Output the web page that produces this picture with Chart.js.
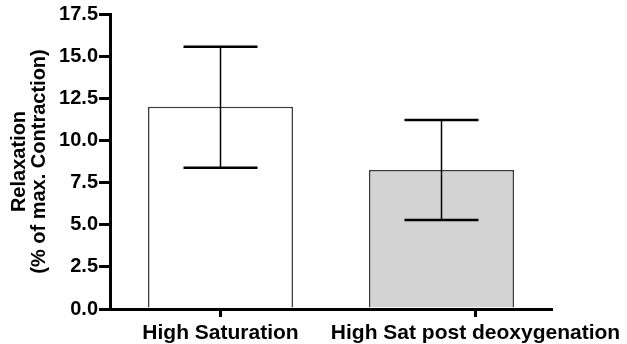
<!DOCTYPE html>
<html>
<head>
<meta charset="utf-8">
<script src="https://cdn.jsdelivr.net/npm/chart.js@4/dist/chart.umd.min.js"></script>
<style>
  html, body { margin: 0; padding: 0; background: #fff; }
  #wrap { width: 627px; height: 344px; position: relative; }
</style>
</head>
<body>
<div id="wrap"><canvas id="c" width="627" height="344"></canvas></div>
<script>
// ---- data ----
const categories = ['High Saturation', 'High Sat post deoxygenation'];
const means = [12.0, 8.25];
const errLow = [8.38, 5.28];
const errHigh = [15.56, 11.21];
const yTicks = [0, 2.5, 5, 7.5, 10, 12.5, 15, 17.5];

// ---- style ----
const FONT = "'Liberation Sans', Arial, Helvetica, sans-serif";
const barFills = ['#ffffff', '#d3d3d3'];
const labelShift = [0, 34];   // horizontal shift of x labels (px)

const errorBars = {
  id: 'errorBars',
  afterDatasetsDraw(chart) {
    const ctx = chart.ctx;
    const meta = chart.getDatasetMeta(0);
    const y = chart.scales.y;
    ctx.save();
    ctx.strokeStyle = '#000';
    meta.data.forEach((bar, i) => {
      const x = bar.x;
      const yl = y.getPixelForValue(errLow[i]);
      const yh = y.getPixelForValue(errHigh[i]);
      ctx.lineWidth = 1.5;
      ctx.beginPath();
      ctx.moveTo(x, yl); ctx.lineTo(x, yh);
      ctx.stroke();
      ctx.lineWidth = 2.5;
      const cw = 37;
      ctx.beginPath();
      ctx.moveTo(x - cw, yl); ctx.lineTo(x + cw, yl);
      ctx.moveTo(x - cw, yh); ctx.lineTo(x + cw, yh);
      ctx.stroke();
    });
    ctx.restore();
  }
};

const xLabels = {
  id: 'xLabels',
  afterDraw(chart) {
    const ctx = chart.ctx;
    const xs = chart.scales.x;
    const base = chart.chartArea.bottom;
    ctx.save();
    ctx.fillStyle = '#000';
    ctx.strokeStyle = '#000';
    ctx.font = 'bold 21px ' + FONT;
    ctx.textAlign = 'center';
    ctx.textBaseline = 'alphabetic';
    categories.forEach((lab, i) => {
      const cx = xs.getPixelForValue(i) + labelShift[i];
      ctx.lineWidth = 3;
      ctx.beginPath();
      ctx.moveTo(cx, base); ctx.lineTo(cx, base + 8);
      ctx.stroke();
      ctx.fillText(lab, cx, base + 30);
    });
    ctx.restore();
  }
};

new Chart(document.getElementById('c'), {
  type: 'bar',
  data: {
    labels: categories,
    datasets: [{
      data: means,
      backgroundColor: barFills,
      borderColor: '#3a3a3a',
      borderWidth: 1.5,
      barPercentage: 0.656,
      categoryPercentage: 1.0
    }]
  },
  options: {
    responsive: false,
    animation: false,
    events: [],
    layout: { padding: { left: 0, right: 75, top: 14, bottom: 0 } },
    plugins: { legend: { display: false }, tooltip: { enabled: false } },
    scales: {
      x: {
        offset: true,
        grid: { display: false, drawTicks: false },
        border: { display: true, color: '#000', width: 3 },
        ticks: { display: false },
        afterFit(s) { s.height = 35; }
      },
      y: {
        min: 0, max: 17.5,
        afterBuildTicks(s) { s.ticks = yTicks.map(v => ({ value: v })); },
        grid: { drawOnChartArea: false, drawTicks: true, tickLength: 11, tickWidth: 3, tickColor: '#000', lineWidth: 3, color: '#000' },
        border: { display: true, color: '#000', width: 3 },
        ticks: {
          color: '#000',
          padding: 1,
          font: { family: FONT, size: 20, weight: 'bold' },
          callback: v => Number(v).toFixed(1)
        },
        title: {
          display: true,
          text: ['Relaxation', '(% of max. Contraction)'],
          color: '#000',
          font: { family: FONT, size: 20, weight: 'bold', lineHeight: 1.0 },
          padding: { top: 9, bottom: 2 }
        },
        afterFit(s) { s.width = 110; }
      }
    }
  },
  plugins: [errorBars, xLabels]
});
</script>
</body>
</html>
